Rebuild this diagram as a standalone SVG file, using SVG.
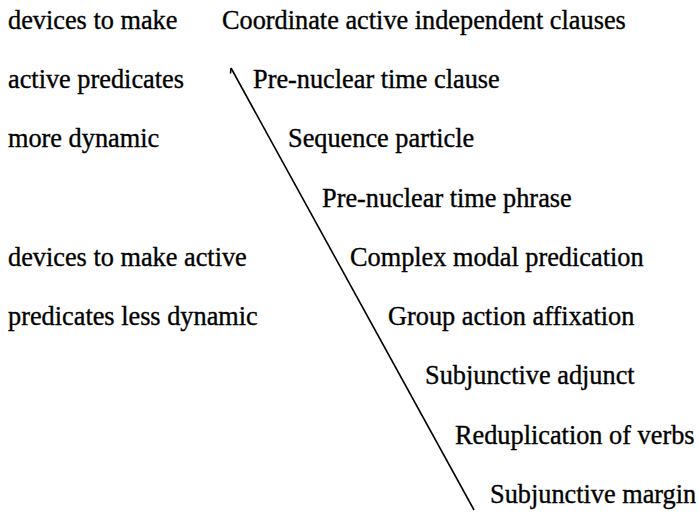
<svg xmlns="http://www.w3.org/2000/svg" width="699" height="512" viewBox="0 0 699 512">
<style>
text{font-family:"Liberation Serif","Times New Roman",serif;font-size:26.3px;fill:#000;stroke:#000;stroke-width:0.35}
.ln{stroke:#000;stroke-width:1.6;fill:none}
</style>
<rect width="699" height="512" fill="#fff"/>
<g id="left-labels">
<g id="more-dynamic">
<text x="8" y="29">devices to make</text>
<text x="8" y="88">active predicates</text>
<text x="8" y="147">more dynamic</text>
</g>
<g id="less-dynamic">
<text x="8" y="266">devices to make active</text>
<text x="8" y="325">predicates less dynamic</text>
</g>
</g>
<g id="connectors">
<path class="ln" d="M231,68 L474,510"/>
<path class="ln" d="M231,68 L230.5,73.5"/>
</g>
<g id="n1"><text x="222" y="29">Coordinate active independent clauses</text></g>
<g id="n2"><text x="253" y="88">Pre-nuclear time clause</text></g>
<g id="n3"><text x="288" y="147">Sequence particle</text></g>
<g id="n4"><text x="322" y="207">Pre-nuclear time phrase</text></g>
<g id="n5"><text x="350" y="266">Complex modal predication</text></g>
<g id="n6"><text x="388" y="325">Group action affixation</text></g>
<g id="n7"><text x="425" y="384">Subjunctive adjunct</text></g>
<g id="n8"><text x="455" y="444">Reduplication of verbs</text></g>
<g id="n9"><text x="490" y="503">Subjunctive margin</text></g>
</svg>
